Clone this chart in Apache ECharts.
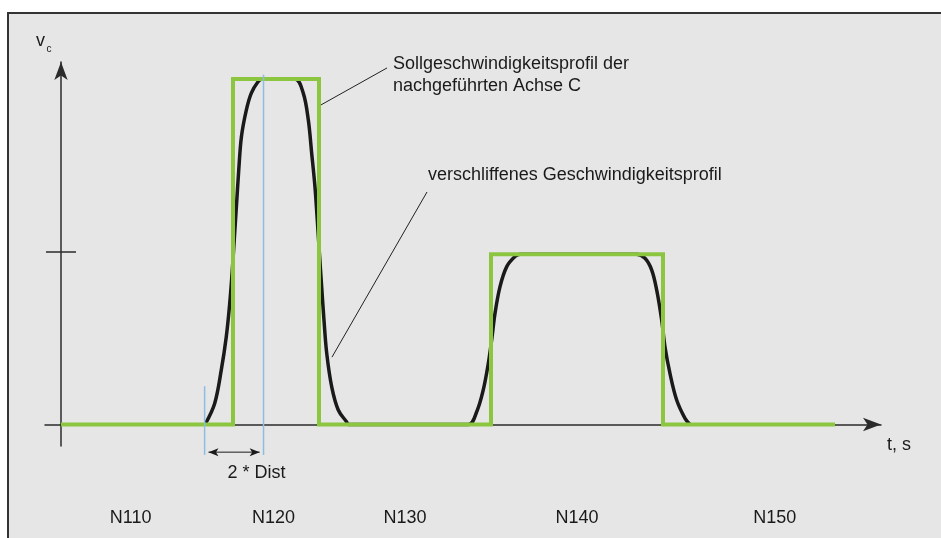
<!DOCTYPE html>
<html><head><meta charset="utf-8">
<script src="https://cdn.jsdelivr.net/npm/echarts@6/dist/echarts.min.js"></script>
<style>html,body{margin:0;padding:0;background:#fff}#c{width:941px;height:538px}</style>
</head><body><div id="c"></div>
<script>
// Setpoint velocity profile (green, rectangular)
const setpointT = [0, 20, 20, 30, 30, 50, 50, 70, 70, 90];
const setpointV = [0, 0, 1, 1, 0, 0, 0.493, 0.493, 0, 0];
// Smoothed velocity profile (black)
const smoothT = [16.75, 17.87, 18.64, 19.22, 19.62, 19.92, 20.17, 20.42, 20.67, 20.98, 21.55, 22.13, 22.91, 23.4,
                 27.2, 28.17, 28.76, 29.15, 29.53, 29.8, 30.05, 30.31, 30.58, 30.9, 31.48, 32.24, 33.2, 33.45,
                 47.36, 48.34, 49.1, 49.69, 50.08, 50.47, 51.05, 51.83, 52.79, 53.37,
                 66.94, 67.91, 68.69, 69.27, 69.85, 70.23, 70.81, 71.59, 72.56, 73.14];
const smoothV = [0, 0.061, 0.158, 0.254, 0.351, 0.447, 0.544, 0.640, 0.737, 0.833, 0.910, 0.959, 0.992, 1,
                 1, 0.959, 0.881, 0.785, 0.688, 0.592, 0.495, 0.399, 0.302, 0.206, 0.109, 0.042, 0.008, 0,
                 0, 0.037, 0.1, 0.177, 0.245, 0.322, 0.399, 0.457, 0.486, 0.493,
                 0.493, 0.481, 0.447, 0.389, 0.302, 0.225, 0.148, 0.071, 0.018, 0];
// Blue "Dist" marker lines
const distT = [16.7, 23.55];
const distLow = -0.088;
const distHigh = [0.111, 1.012];
// Double arrow "2 * Dist"
const distArrowT = [17.15, 23.1];
const distArrowV = -0.08;
// Block labels
const blockNames = ['N110', 'N120', 'N130', 'N140', 'N150'];
const blockCenters = [8.1, 24.7, 40, 60, 83];
const yTicks = [0.5];
// Leader lines for annotations
const leaderA = [[30.23, 0.925], [37.91, 1.032]];
const leaderB = [[42.56, 0.673], [31.51, 0.195]];

const FONT = '"Liberation Sans", Arial, sans-serif';
const TXT = '#1a1a1a';
const AX = '#2b2b2b';
const X_MIN = -1.86, X_MAX = 95.35, Y_MIN = -0.0622, Y_MAX = 1.0492;

const chart = echarts.init(document.getElementById('c'));
const axisLineStyle = {color: AX, width: 1.5};
chart.setOption({
  backgroundColor: '#ffffff',
  animation: false,
  grid: {left: 45, right: 60, top: 62, bottom: 92},
  xAxis: [
    {type: 'value', min: X_MIN, max: X_MAX,
     axisLine: {onZero: true, onZeroAxisIndex: 0, lineStyle: axisLineStyle, symbol: ['none', 'arrow'], symbolSize: [10, 18]},
     axisTick: {show: false}, axisLabel: {show: false}, splitLine: {show: false}},
    {type: 'value', min: X_MIN, max: X_MAX, position: 'bottom',
     axisLine: {show: false, onZero: false}, axisTick: {show: false}, splitLine: {show: false},
     axisLabel: {customValues: blockCenters, formatter: v => blockNames[blockCenters.indexOf(v)],
                 margin: 63, color: TXT, fontSize: 18, fontFamily: FONT}}
  ],
  yAxis: [
    {type: 'value', min: Y_MIN, max: Y_MAX, position: 'left',
     axisLine: {onZero: true, onZeroAxisIndex: 0, lineStyle: axisLineStyle, symbol: ['none', 'arrow'], symbolSize: [10, 18]},
     axisTick: {show: true, customValues: yTicks, length: 15, inside: false, lineStyle: axisLineStyle},
     axisLabel: {show: false}, splitLine: {show: false}},
    {type: 'value', min: Y_MIN, max: Y_MAX, position: 'left',
     axisLine: {show: true, onZero: true, onZeroAxisIndex: 0, lineStyle: {color: AX, width: 1.5, opacity: 0}},
     axisTick: {show: true, customValues: yTicks, length: 15, inside: true, lineStyle: axisLineStyle},
     axisLabel: {show: false}, splitLine: {show: false}}
  ],
  series: [
    {type: 'line', name: 'verschliffenes Geschwindigkeitsprofil',
     data: smoothT.map((t, i) => [t, smoothV[i]]),
     smooth: 0.35, symbol: 'none', z: 3,
     lineStyle: {color: '#1a1a1a', width: 3.5},
     markLine: {silent: true, symbol: ['none', 'none'], animation: false, label: {show: false},
                lineStyle: {color: '#222', width: 1, type: 'solid'},
                data: [[{coord: leaderA[0]}, {coord: leaderA[1]}], [{coord: leaderB[0]}, {coord: leaderB[1]}]]}},
    {type: 'line', name: 'Sollgeschwindigkeitsprofil',
     data: setpointT.map((t, i) => [t, setpointV[i]]),
     symbol: 'none', z: 4, lineStyle: {color: '#8cc540', width: 4, join: 'miter'}},
    {type: 'line', name: 'dist1', clip: false, symbol: 'none', z: 5,
     data: [[distT[0], distLow], [distT[0], distHigh[0]]],
     lineStyle: {color: '#8fbde2', width: 1.5}},
    {type: 'line', name: 'dist2', clip: false, symbol: 'none', z: 5,
     data: [[distT[1], distLow], [distT[1], distHigh[1]]],
     lineStyle: {color: '#8fbde2', width: 1.5}},
    {type: 'line', name: '2 * Dist', clip: false, z: 6, showSymbol: true, symbol: 'arrow', symbolSize: [6, 10],
     data: [{value: [distArrowT[0], distArrowV], symbolRotate: 90}, {value: [distArrowT[1], distArrowV], symbolRotate: -90}],
     itemStyle: {color: '#1a1a1a'}, lineStyle: {color: '#1a1a1a', width: 1}}
  ],
  graphic: [
    {type: 'rect', z: -10, silent: true, shape: {x: 8, y: 13, width: 933, height: 525}, style: {fill: '#e6e6e6'}},
    {type: 'line', z: -5, silent: true, shape: {x1: 7, y1: 13, x2: 941, y2: 13}, style: {stroke: '#333', lineWidth: 2}},
    {type: 'line', z: -5, silent: true, shape: {x1: 8, y1: 12, x2: 8, y2: 538}, style: {stroke: '#333', lineWidth: 2}},
    {type: 'text', x: 36, y: 41, style: {text: 'v', font: '18px ' + FONT, fill: TXT, align: 'left', verticalAlign: 'middle'}},
    {type: 'text', x: 46.5, y: 49.5, style: {text: 'c', font: '10px ' + FONT, fill: TXT, align: 'left', verticalAlign: 'middle'}},
    {type: 'text', x: 887, y: 445.5, style: {text: 't, s', font: '18px ' + FONT, fill: TXT, align: 'left', verticalAlign: 'middle'}},
    {type: 'text', x: 256.5, y: 473, style: {text: '2 * Dist', font: '18px ' + FONT, fill: TXT, align: 'center', verticalAlign: 'middle'}},
    {type: 'text', x: 393, y: 64, style: {text: 'Sollgeschwindigkeitsprofil der', font: '18px ' + FONT, fill: TXT, align: 'left', verticalAlign: 'middle'}},
    {type: 'text', x: 393, y: 86.5, style: {text: 'nachgeführten Achse C', font: '18px ' + FONT, fill: TXT, align: 'left', verticalAlign: 'middle'}},
    {type: 'text', x: 428, y: 175.5, style: {text: 'verschliffenes Geschwindigkeitsprofil', font: '18px ' + FONT, fill: TXT, align: 'left', verticalAlign: 'middle'}}
  ]
});
</script>
</body></html>
